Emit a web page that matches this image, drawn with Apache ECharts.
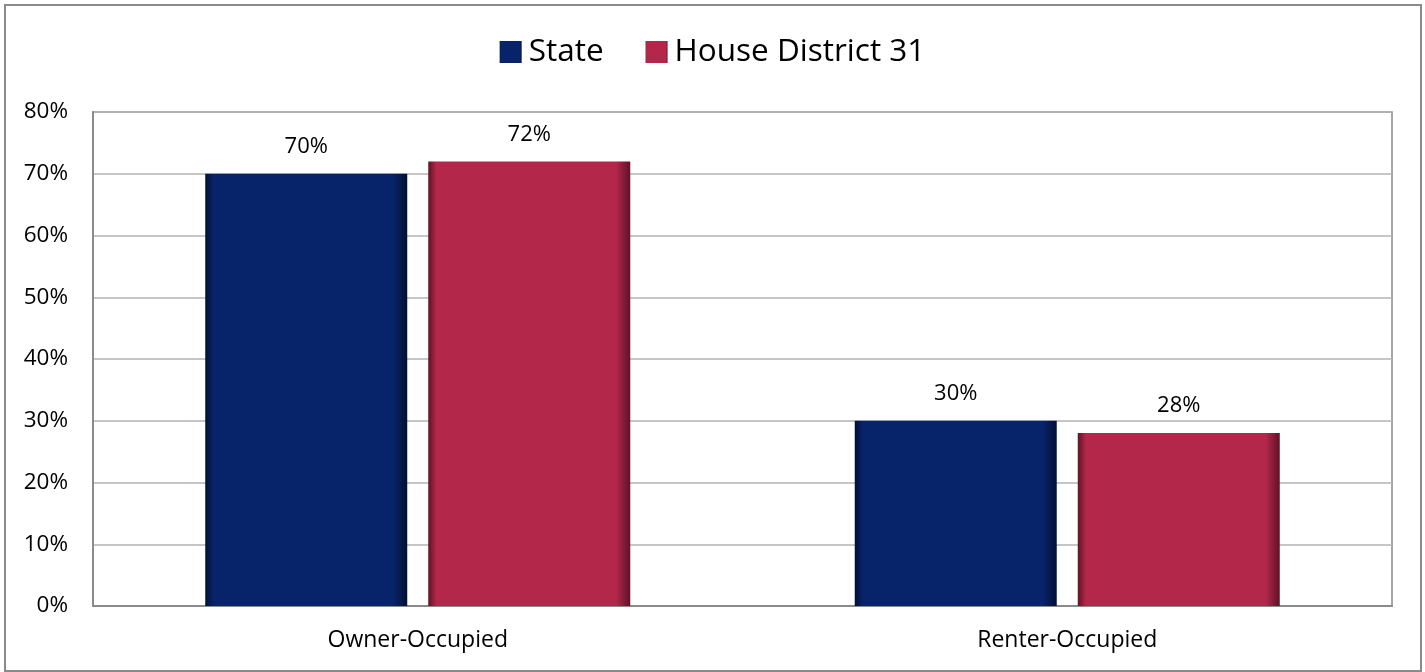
<!DOCTYPE html>
<html>
<head>
<meta charset="utf-8">
<script src="https://cdn.jsdelivr.net/npm/echarts@6/dist/echarts.min.js"></script>
<style>
html,body{margin:0;padding:0;background:#fff;}
#chart{width:1425px;height:672px;}
</style>
</head>
<body>
<div id="chart"></div>
<script>
const categories = ['Owner-Occupied', 'Renter-Occupied'];
const seriesNames = ['State', 'House District 31'];
const stateValues = [70, 30];
const districtValues = [72, 28];
const yTicks = { min: 0, max: 80, interval: 10 };

const FONT = '"Open Sans", "Noto Sans", sans-serif';
const navy = '#072369';
const crimson = '#b3274b';

function barFill(base, dark) {
  return new echarts.graphic.LinearGradient(0, 0, 1, 0, [
    { offset: 0, color: dark },
    { offset: 0.04, color: base },
    { offset: 0.93, color: base },
    { offset: 1, color: dark }
  ]);
}

const chart = echarts.init(document.getElementById('chart'), null, { renderer: 'canvas' });
chart.setOption({
  backgroundColor: '#fff',
  animation: false,
  graphic: [{
    type: 'rect',
    shape: { x: 5, y: 5, width: 1416, height: 666 },
    style: { fill: 'none', stroke: '#8a8a8a', lineWidth: 2 },
    silent: true,
    z: 100
  }],
  legend: {
    data: seriesNames,
    top: 31,
    left: 'center',
    icon: 'rect',
    itemWidth: 22,
    itemHeight: 22,
    itemGap: 42,
    textStyle: { fontFamily: FONT, fontSize: 31.5, color: '#000', padding: [0, 0, 0, 2] }
  },
  grid: {
    left: 93, right: 33, top: 112, bottom: 66,
    show: true, borderColor: '#8a8a8a', borderWidth: 1.5, backgroundColor: '#fff'
  },
  xAxis: {
    type: 'category',
    data: categories,
    axisTick: { show: false },
    axisLine: { show: true, lineStyle: { color: '#8a8a8a', width: 2 } },
    axisLabel: { fontFamily: FONT, fontSize: 23, color: '#000', margin: 23 }
  },
  yAxis: {
    type: 'value',
    min: yTicks.min, max: yTicks.max, interval: yTicks.interval,
    axisLine: { show: true, lineStyle: { color: '#8a8a8a', width: 2 } },
    axisTick: { show: false },
    splitLine: { lineStyle: { color: '#b3b3b3', width: 1.5 } },
    axisLabel: { fontFamily: FONT, fontSize: 22.5, color: '#000', margin: 25, formatter: v => v + '%' }
  },
  series: [
    {
      name: seriesNames[0], type: 'bar', data: stateValues,
      barWidth: 202, barGap: '10.4%',
      itemStyle: { color: barFill(navy, '#020f33') },
      label: { show: true, position: 'top', distance: 16, fontFamily: FONT, fontSize: 22, color: '#000', formatter: p => p.value + '%' }
    },
    {
      name: seriesNames[1], type: 'bar', data: districtValues,
      barWidth: 202,
      itemStyle: { color: barFill(crimson, '#5e1226') },
      label: { show: true, position: 'top', distance: 16, fontFamily: FONT, fontSize: 22, color: '#000', formatter: p => p.value + '%' }
    }
  ]
});
</script>
</body>
</html>
